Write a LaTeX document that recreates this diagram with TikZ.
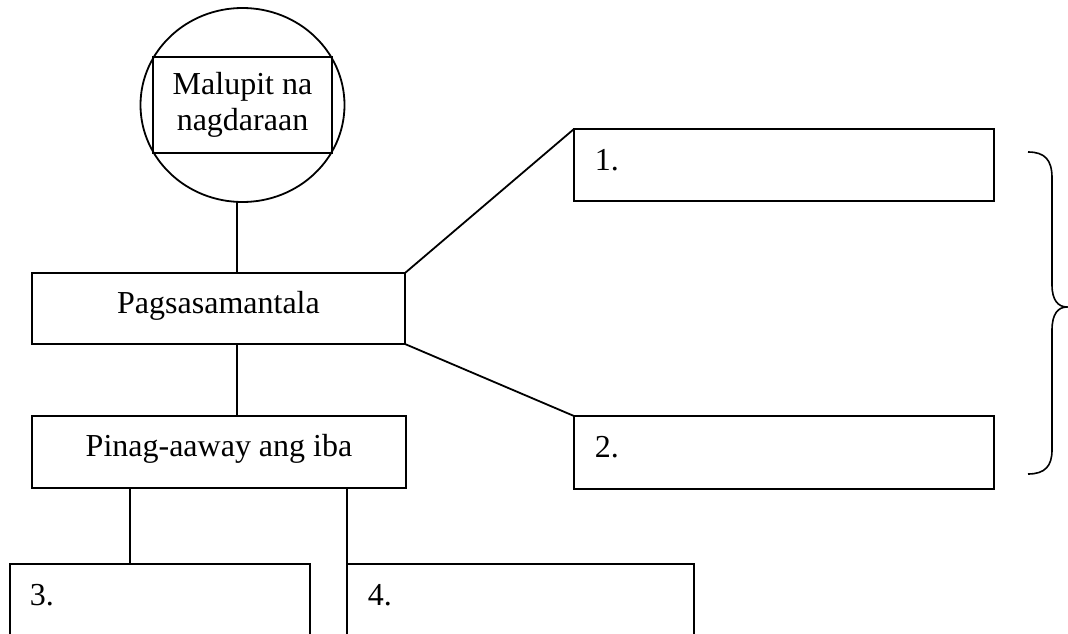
\documentclass[tikz,border=0pt]{standalone}
\usepackage{fontspec}
\setmainfont{Liberation Serif}
\begin{document}
\begin{tikzpicture}[x=1pt,y=-1pt,line width=1.8pt,
  txt/.style={font=\fontsize{32}{36}\selectfont},
  box/.style={draw,line width=1.8pt,rectangle,inner sep=0pt,outer sep=0pt},
  boxtxt/.style={box,txt,text height=22pt,text depth=13pt},
  numtxt/.style={txt,anchor=base west,inner sep=0pt}]
\useasboundingbox (0,0) rectangle (1068,634);
% ellipse with inner box
\draw (242.5,105) ellipse [x radius=102, y radius=97];
\node[box,minimum width=179pt,minimum height=96pt,txt,align=center] (mal) at (242.5,105) {Malupit na\\nagdaraan};
\coordinate (circbot) at (237,201.8);
% main boxes
\node[boxtxt,minimum width=373pt,minimum height=71pt] (pag) at (218.5,308.5) {Pagsasamantala};
\node[boxtxt,minimum width=374pt,minimum height=72pt] (pin) at (219,452) {Pinag-aaway ang iba};
% right boxes
\node[box,minimum width=420pt,minimum height=72pt] (b1) at (784,165) {};
\node[box,minimum width=420pt,minimum height=73pt] (b2) at (784,452.5) {};
\node[numtxt] (t1) at ([shift={(20,41)}]b1.north west) {1.};
\node[numtxt] (t2) at ([shift={(20,41)}]b2.north west) {2.};
% bottom boxes (cut by page edge)
\node[box,minimum width=300pt,minimum height=140pt] (b3) at (160,634) {};
\node[box,minimum width=347pt,minimum height=140pt] (b4) at (520.5,634) {};
\node[numtxt] (t3) at ([shift={(19,41)}]b3.north west) {3.};
\node[numtxt] (t4) at ([shift={(20,41)}]b4.north west) {4.};
% connectors
\draw (circbot) -- (circbot |- pag.north);
\coordinate (pagdown) at (237,344);
\draw (pagdown) -- (pagdown |- pin.north);
\draw (pag.north east) -- (b1.north west);
\draw (pag.south east) -- (b2.north west);
\coordinate (c3) at (130,488);
\draw (c3) -- (c3 |- b3.north);
\draw (pin.south -| b4.north west) -- (b4.north west);
% brace
\draw[line width=1.6pt] (1028,152) .. controls (1045,152) and (1052,160) .. (1052,178) -- (1052,285)
  .. controls (1052,300) and (1058,307) .. (1067,307)
  .. controls (1058,307) and (1052,314) .. (1052,330) -- (1052,450)
  .. controls (1052,466) and (1045,474) .. (1028,474);
\end{tikzpicture}
\end{document}
